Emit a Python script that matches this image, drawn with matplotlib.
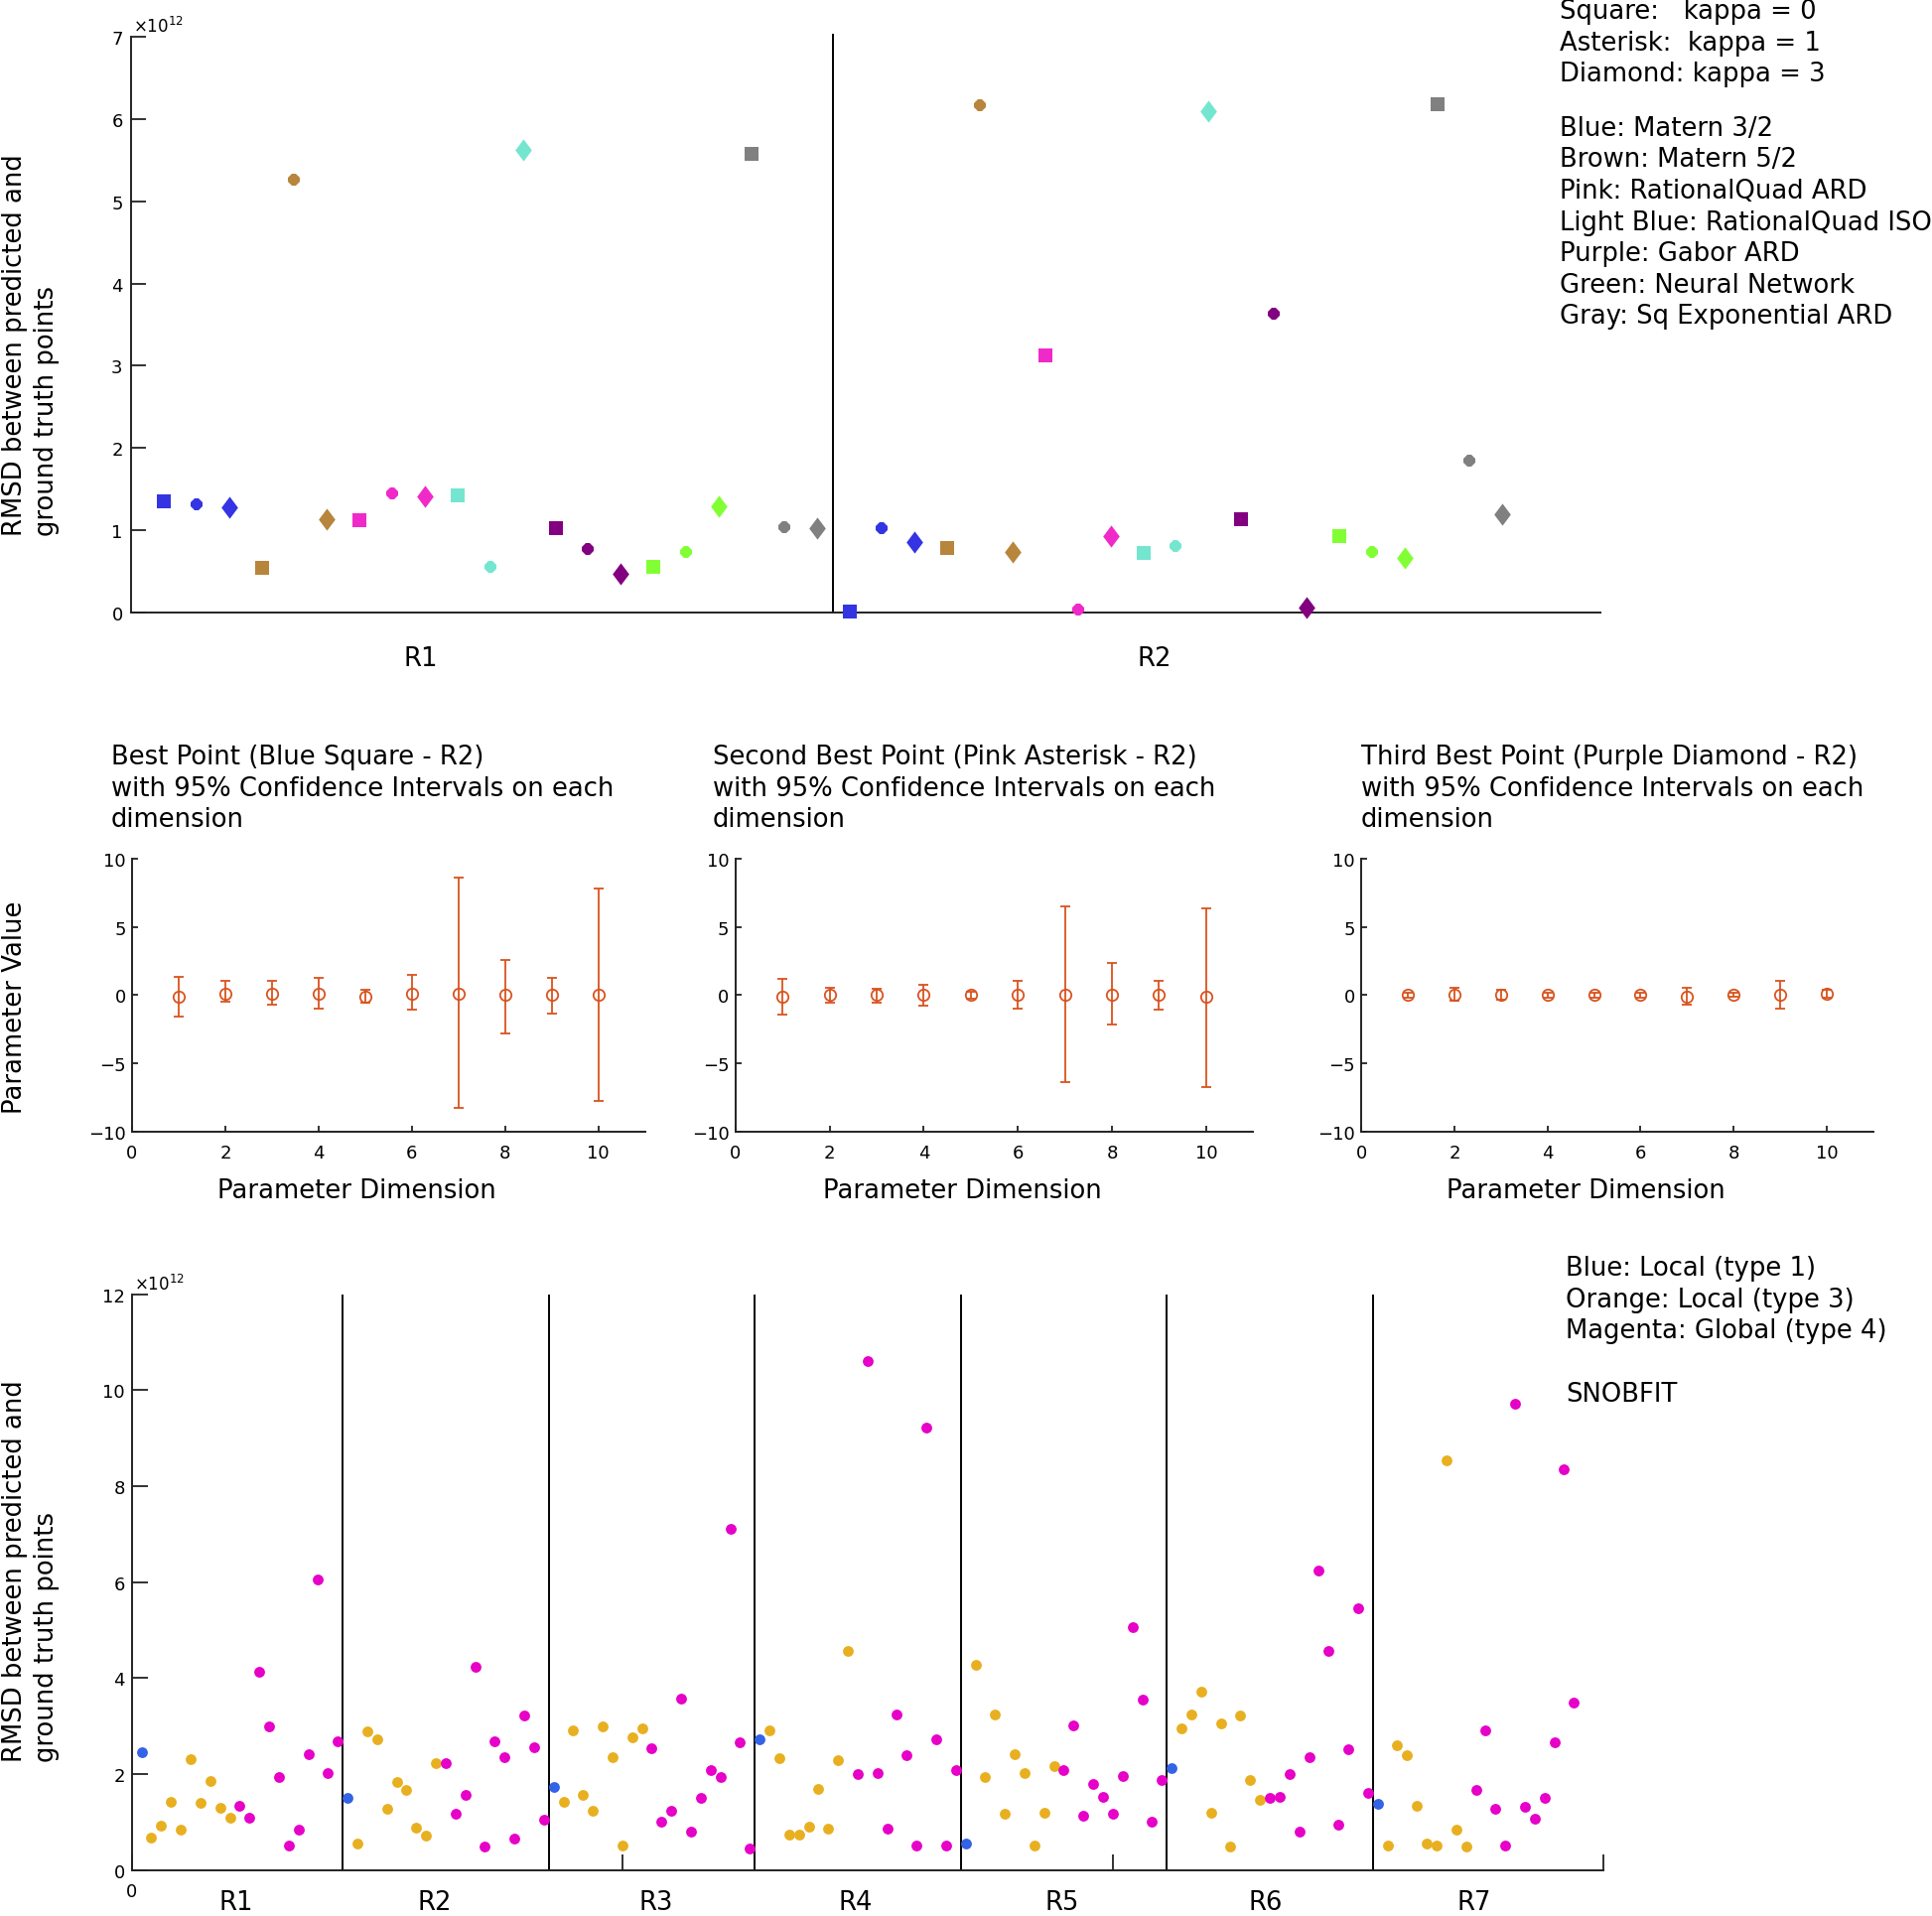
import numpy as np
import matplotlib
matplotlib.use('Agg')
import matplotlib.pyplot as plt

W, H, DPI = 1946, 1931, 100
FS = 18.6      # main text size
TFS = 13       # tick label size

# ---------------- data: top panel (RMSD, x1e12) ----------------
region_names_top = ['R1', 'R2']
color_names = ['Blue', 'Brown', 'Pink', 'Light Blue', 'Purple', 'Green', 'Gray']
model_names = ['Matern 3/2', 'Matern 5/2', 'RationalQuad ARD', 'RationalQuad ISO',
               'Gabor ARD', 'Neural Network', 'Sq Exponential ARD']
model_colors = ['#3434e2', '#b8853c', '#f02ac8', '#74e6d0', '#820080', '#82ff34', '#808080']
kappa_names = ['Square:   kappa = 0', 'Asterisk:  kappa = 1', 'Diamond: kappa = 3']
# per region: 7 models x (kappa 0 square, kappa 1 asterisk, kappa 3 diamond)
r1_rmsd = [1.35, 1.31, 1.275,
           0.54, 5.26, 1.14,
           1.12, 1.45, 1.41,
           1.42, 0.56, 5.63,
           1.02, 0.77, 0.47,
           0.556, 0.74, 1.295,
           5.57, 1.04, 1.03]
r2_rmsd = [0.015, 1.02, 0.86,
           0.79, 6.17, 0.74,
           3.12, 0.035, 0.93,
           0.72, 0.81, 6.09,
           1.14, 3.63, 0.06,
           0.93, 0.74, 0.66,
           6.18, 1.85, 1.20]

# ---------------- data: middle panels (parameter values and 95% CI) ----------------
dims = [1, 2, 3, 4, 5, 6, 7, 8, 9, 10]
best_val = [-0.1, 0.1, 0.1, 0.1, -0.1, 0.1, 0.1, 0.0, 0.0, 0.0]
best_lo = [-1.61, -0.49, -0.73, -0.98, -0.59, -1.07, -8.24, -2.78, -1.39, -7.8]
best_hi = [1.37, 1.02, 1.07, 1.24, 0.39, 1.51, 8.59, 2.59, 1.27, 7.8]
second_val = [-0.1, 0.0, 0.0, 0.0, 0.0, 0.0, 0.0, 0.0, 0.0, -0.1]
second_lo = [-1.44, -0.59, -0.56, -0.78, -0.27, -1.02, -6.39, -2.17, -1.05, -6.78]
second_hi = [1.22, 0.56, 0.49, 0.76, 0.24, 1.05, 6.54, 2.32, 1.02, 6.39]
third_val = [0.0, 0.0, 0.0, 0.0, 0.0, 0.0, -0.1, 0.0, 0.0, 0.12]
third_lo = [-0.17, -0.39, -0.31, -0.2, -0.2, -0.2, -0.73, -0.15, -0.99, -0.17]
third_hi = [0.17, 0.53, 0.39, 0.2, 0.2, 0.2, 0.53, 0.15, 1.02, 0.41]
panel_titles = [
    ['Best Point (Blue Square - R2)', 'with 95% Confidence Intervals on each', 'dimension'],
    ['Second Best Point (Pink Asterisk - R2)', 'with 95% Confidence Intervals on each', 'dimension'],
    ['Third Best Point (Purple Diamond - R2)', 'with 95% Confidence Intervals on each', 'dimension'],
]

# ---------------- data: bottom panel (SNOBFIT RMSD, x1e12) ----------------
region_names = ['R1', 'R2', 'R3', 'R4', 'R5', 'R6', 'R7']
snob_blue = [2.46, 1.50, 1.74, 2.72, 0.55, 2.13, 1.37]
snob_orange = [
    [0.67, 0.93, 1.43, 0.84, 2.32, 1.40, 1.86, 1.30, 1.10],
    [0.55, 2.89, 2.72, 1.27, 1.83, 1.67, 0.88, 0.71, 2.22],
    [1.43, 2.91, 1.57, 1.24, 2.99, 2.35, 0.51, 2.76, 2.95],
    [2.91, 2.33, 0.74, 0.74, 0.91, 1.70, 0.87, 2.29, 4.57],
    [4.27, 1.93, 3.24, 1.17, 2.42, 2.02, 0.51, 1.20, 2.16],
    [2.95, 3.24, 3.71, 1.20, 3.05, 0.48, 3.22, 1.87, 1.47],
    [0.51, 2.59, 2.39, 1.33, 0.55, 0.51, 8.53, 0.85, 0.48],
]
snob_magenta = [
    [1.33, 1.10, 4.14, 2.99, 1.93, 0.51, 0.84, 2.42, 6.05, 2.02, 2.68],
    [2.22, 1.18, 1.57, 4.24, 0.48, 2.69, 2.36, 0.65, 3.22, 2.56, 1.05],
    [2.53, 1.00, 1.24, 3.58, 0.81, 1.50, 2.09, 1.93, 7.11, 2.66, 0.44],
    [2.00, 10.60, 2.03, 0.87, 3.25, 2.39, 0.51, 9.22, 2.72, 0.51, 2.09],
    [2.09, 3.02, 1.13, 1.80, 1.53, 1.17, 1.96, 5.07, 3.55, 1.00, 1.87],
    [1.50, 1.53, 2.00, 0.81, 2.35, 6.25, 4.57, 0.94, 2.52, 5.46, 1.60],
    [1.67, 2.92, 1.27, 0.51, 9.71, 1.31, 1.07, 1.50, 2.66, 8.36, 3.48],
]
snob_legend = ['Blue: Local (type 1)', 'Orange: Local (type 3)', 'Magenta: Global (type 4)']

# ---------------- figure ----------------
fig = plt.figure(figsize=(W / DPI, H / DPI), dpi=DPI)


def rect(l, t, r, b):
    return [l / W, 1 - b / H, (r - l) / W, (b - t) / H]


def txt(x, y, s, **kw):
    kw.setdefault('fontsize', FS)
    fig.text(x / W, 1 - y / H, s, **kw)


def style_axes(ax, ticklen):
    for s in ['top', 'right']:
        ax.spines[s].set_visible(False)
    for s in ['left', 'bottom']:
        ax.spines[s].set_linewidth(1.4)
        ax.spines[s].set_color('#222222')
    ax.tick_params(direction='in', length=ticklen, width=1.3, labelsize=TFS, color='#222222')


# ===== top panel =====
ax = fig.add_axes(rect(132, 38, 1612, 618))
style_axes(ax, 10.8)
ax.set_xlim(0, 45)
ax.set_ylim(0, 7)
ax.set_yticks(range(0, 8))
ax.set_xticks([])
ax.tick_params(axis='y', pad=6)
diamond = [(0, 1), (0.75, 0), (0, -1), (-0.75, 0), (0, 1)]
markers = ['s', '8', diamond]
msizes = [9.8, 9.2, 16]
for k, vals in enumerate([r1_rmsd, r2_rmsd]):
    for c in range(len(model_names)):
        for m in range(3):
            i = 3 * c + m
            ax.plot(21 * k + i + 1, vals[i], linestyle='none', marker=markers[m],
                    markersize=msizes[m], color=model_colors[c], markeredgewidth=0,
                    clip_on=False, zorder=3)
ax.plot([21.5, 21.5], [0, 7.03], color='k', lw=1.4, clip_on=False)
for name, xpos in zip(region_names_top, [8.86, 31.35]):
    ax.text(xpos, -53 / (618 - 38), name, transform=ax.get_xaxis_transform(),
            fontsize=FS, ha='center', va='baseline')
txt(134, 33, r'$\times10^{12}$', fontsize=12, ha='left', va='baseline')

txt(15, 540, 'RMSD between predicted and', rotation=90, ha='center', va='bottom')
txt(47, 540, 'ground truth points', rotation=90, ha='center', va='bottom')

y0 = 19.3
for j, s in enumerate(kappa_names):
    txt(1571, y0 + 31.6 * j, s, ha='left', va='baseline')
y0 = 136.7
for j, (cn, mn) in enumerate(zip(color_names, model_names)):
    txt(1571, y0 + 31.6 * j, f'{cn}: {mn}', ha='left', va='baseline')

# ===== middle panels =====
mid_lefts = [133, 740.7, 1371.1]
mid_rights = [649.6, 1262.3, 1886.9]
title_lefts = [111.7, 717.8, 1371.1]
panel_data = [(best_val, best_lo, best_hi), (second_val, second_lo, second_hi),
              (third_val, third_lo, third_hi)]
for p in range(3):
    ax = fig.add_axes(rect(mid_lefts[p], 866, mid_rights[p], 1140.7))
    style_axes(ax, 4.3)
    ax.set_xlim(0, 11)
    ax.set_ylim(-10, 10)
    ax.set_xticks([0, 2, 4, 6, 8, 10])
    ax.set_yticks([-10, -5, 0, 5, 10])
    ax.tick_params(axis='x', pad=9)
    ax.tick_params(axis='y', pad=4.5)
    v, lo, hi = [np.array(a) for a in panel_data[p]]
    ax.errorbar(dims, v, yerr=[v - lo, hi - v], fmt='o', color='#d9531e',
                markerfacecolor='none', markersize=8.2, markeredgewidth=1.3,
                elinewidth=1.3, capsize=3.4, capthick=1.3, clip_on=False)
    ax.set_xlabel('Parameter Dimension', fontsize=FS)
    cx = (mid_lefts[p] + mid_rights[p]) / 2 - 32
    ax.xaxis.set_label_coords((cx - mid_lefts[p]) / (mid_rights[p] - mid_lefts[p]),
                              -(1207.3 - 1140.7) / (1140.7 - 866))
    ax.xaxis.label.set_va('baseline')
    for j, line in enumerate(panel_titles[p]):
        txt(title_lefts[p], 770 + 31.6 * j, line, ha='left', va='baseline')

txt(15, 1015, 'Parameter Value', rotation=90, ha='center', va='center')

# ===== bottom panel =====
ax = fig.add_axes(rect(132.7, 1304.6, 1615, 1884.7))
style_axes(ax, 11.5)
ax.set_xlim(0, 150)
ax.set_ylim(0, 12)
ax.set_yticks(range(0, 13, 2))
ax.set_xticks([0, 50, 100, 150])
ax.set_xticklabels(['0', '', '', ''])
ax.tick_params(axis='x', pad=9)
ax.tick_params(axis='y', pad=5)
for k in range(len(region_names)):
    base = 21 * k
    ax.plot(base + 1, snob_blue[k], 'o', color='#3363e6', markersize=7.8,
            markeredgewidth=0, clip_on=False, zorder=3)
    ax.plot(base + 2 + np.arange(9), snob_orange[k], 'o', color='#e8b020',
            markersize=7.8, markeredgewidth=0, clip_on=False, zorder=3)
    ax.plot(base + 11 + np.arange(11), snob_magenta[k], 'o', color='#e600c8',
            markersize=7.8, markeredgewidth=0, clip_on=False, zorder=3)
    if k > 0:
        ax.plot([base + 0.5, base + 0.5], [0, 12], color='k', lw=1.4)
for name, xpos in zip(region_names, [10.65, 30.9, 53.4, 73.8, 94.8, 115.6, 136.8]):
    ax.text(xpos, -(1924 - 1884.7) / (1884.7 - 1304.6), name,
            transform=ax.get_xaxis_transform(), fontsize=FS, ha='center', va='baseline')
txt(135, 1300, r'$\times10^{12}$', fontsize=12, ha='left', va='baseline')

txt(15, 1775, 'RMSD between predicted and', rotation=90, ha='center', va='bottom')
txt(47, 1775, 'ground truth points', rotation=90, ha='center', va='bottom')

for j, s in enumerate(snob_legend):
    txt(1577, 1285 + 31.6 * j, s, ha='left', va='baseline')
txt(1577, 1412.3, 'SNOBFIT', ha='left', va='baseline')

fig.savefig('out.png', dpi=DPI)
